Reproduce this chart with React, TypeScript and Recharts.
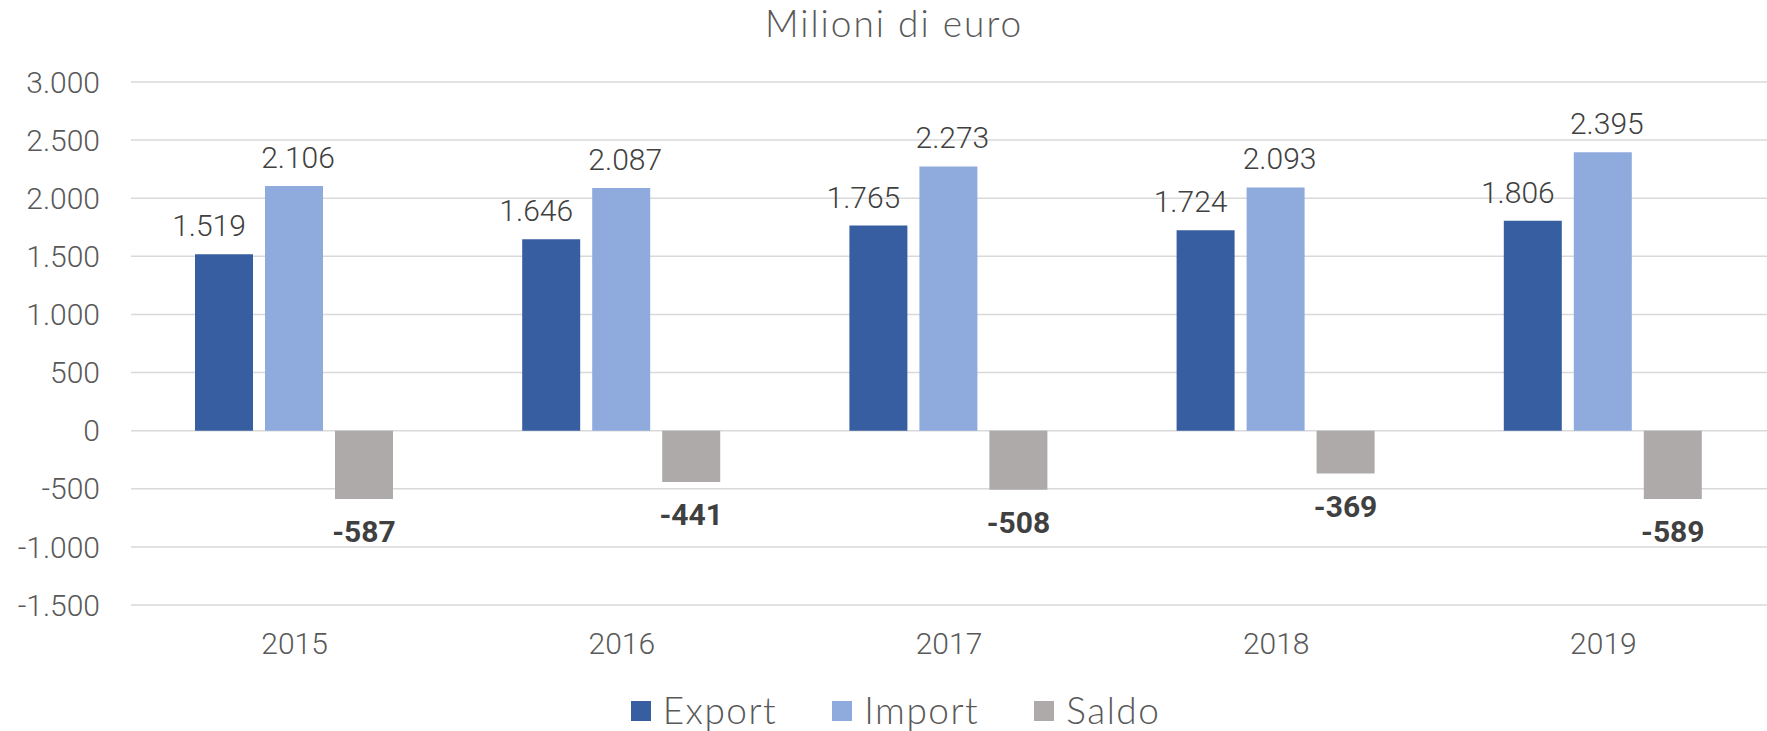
import React from 'react';
import { BarChart, Bar, XAxis, YAxis, CartesianGrid, LabelList, Legend } from 'recharts';

const years = ['2015', '2016', '2017', '2018', '2019'];
const exportValues = [1519, 1646, 1765, 1724, 1806];
const importValues = [2106, 2087, 2273, 2093, 2395];
const saldoValues = [-587, -441, -508, -369, -589];
const yTicks = [-1500, -1000, -500, 0, 500, 1000, 1500, 2000, 2500, 3000];
const seriesNames = ['Export', 'Import', 'Saldo'];
const seriesColors = ['#365ea0', '#8faadc', '#aeaaaa'];
const title = 'Milioni di euro';

const data = years.map((y, i) => ({
  year: y,
  Export: exportValues[i],
  Import: importValues[i],
  Saldo: saldoValues[i],
}));

const fmt = (v: number) => {
  const s = Math.abs(v).toString().replace(/\B(?=(\d{3})+(?!\d))/g, '.');
  return v < 0 ? '-' + s : s;
};

const tickFont = { fontFamily: 'Roboto', fontWeight: 300, fontSize: 30, fill: '#595959' };

const LegendContent = () => (
  <div
    style={{
      display: 'flex',
      justifyContent: 'center',
      alignItems: 'center',
      fontFamily: 'Lato',
      fontWeight: 300,
      fontSize: 37,
      letterSpacing: 1.5,
      lineHeight: '36px',
      color: '#595959',
    }}
  >
    {seriesNames.map((n, i) => (
      <div key={n} style={{ display: 'flex', alignItems: 'center', marginRight: i < seriesNames.length - 1 ? 55 : 0 }}>
        <div style={{ width: 20, height: 20, background: seriesColors[i], marginRight: 12, marginTop: 2 }} />
        <span>{n}</span>
      </div>
    ))}
  </div>
);

export default function App() {
  return (
    <div style={{ position: 'absolute', left: 0, top: 0, width: 1767, height: 731, background: '#fff' }}>
      <BarChart
        width={1767}
        height={731}
        data={data}
        margin={{ top: 82, right: 0, left: 0, bottom: 86 }}
        barCategoryGap={64}
        barGap={12}
      >
        <CartesianGrid vertical={false} stroke="#d9d9d9" strokeWidth={1.5} />
        <XAxis
          dataKey="year"
          axisLine={false}
          tickLine={false}
          tickSize={0}
          tickMargin={28}
          height={40}
          tick={tickFont}
          interval={0}
        />
        <YAxis
          domain={[-1500, 3000]}
          ticks={yTicks}
          axisLine={false}
          tickLine={false}
          tickSize={0}
          tickMargin={31}
          width={131}
          tick={tickFont}
          tickFormatter={fmt}
          interval={0}
        />
        <Legend
          verticalAlign="middle"
          align="center"
          layout="horizontal"
          wrapperStyle={{ top: 692, left: 24, width: 1743 }}
          content={<LegendContent />}
        />
        <Bar dataKey="Export" fill={seriesColors[0]} isAnimationActive={false}>
          <LabelList
            dataKey="Export"
            position="top"
            offset={18}
            formatter={fmt}
            dx={-15}
            style={{ fontFamily: 'Roboto', fontWeight: 300, fontSize: 30, fill: '#404040' }}
          />
        </Bar>
        <Bar dataKey="Import" fill={seriesColors[1]} isAnimationActive={false}>
          <LabelList
            dataKey="Import"
            position="top"
            offset={18}
            formatter={fmt}
            dx={4}
            style={{ fontFamily: 'Roboto', fontWeight: 300, fontSize: 30, fill: '#404040' }}
          />
        </Bar>
        <Bar dataKey="Saldo" fill={seriesColors[2]} isAnimationActive={false}>
          <LabelList
            dataKey="Saldo"
            position="top"
            offset={22}
            formatter={fmt}
            style={{ fontFamily: 'Roboto', fontWeight: 700, fontSize: 30, fill: '#404040' }}
          />
        </Bar>
      </BarChart>
      <svg
        width={1767}
        height={60}
        style={{ position: 'absolute', left: 0, top: 0, pointerEvents: 'none' }}
      >
        <text
          x={894}
          y={37}
          textAnchor="middle"
          fontFamily="Lato"
          fontWeight={300}
          fontSize={37}
          letterSpacing={2}
          fill="#595959"
        >
          {title}
        </text>
      </svg>
    </div>
  );
}
